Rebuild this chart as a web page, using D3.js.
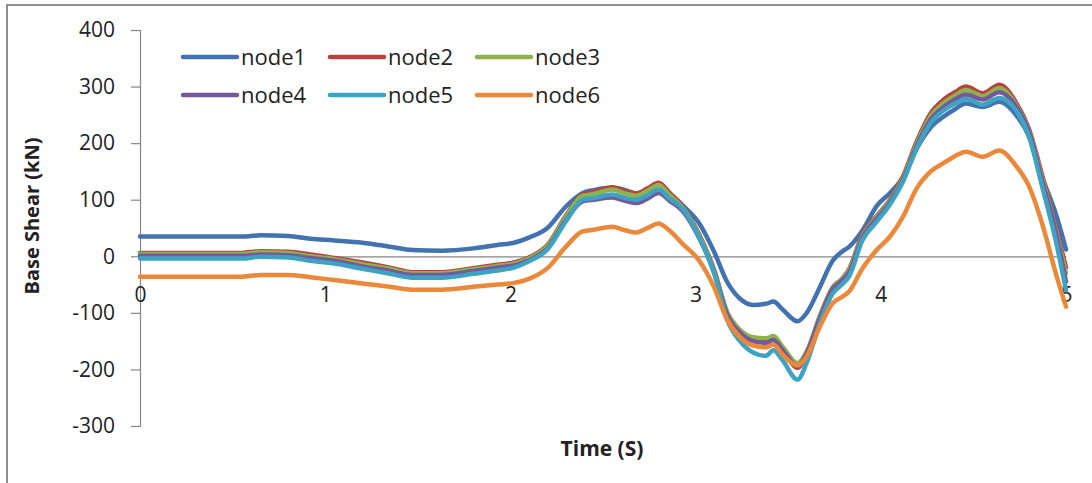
<!DOCTYPE html>
<html>
<head>
<meta charset="utf-8">
<script src="https://cdn.jsdelivr.net/npm/d3@7"></script>
<style>
  body { margin: 0; background: #fff; }
  text { font-family: "Open Sans", sans-serif; fill: #222; }
</style>
</head>
<body>
<div id="chart"></div>
<script>
// time steps (s)
var time = [0, 0.3, 0.55, 0.65, 0.8, 0.92, 1.05, 1.2, 1.35, 1.47, 1.63, 1.8, 1.93, 2.02, 2.1, 2.2, 2.3, 2.39, 2.45, 2.55,
  2.62, 2.68, 2.74, 2.8, 2.86, 2.93, 3.02, 3.1, 3.17, 3.24, 3.31, 3.38, 3.42, 3.47, 3.55, 3.6, 3.67, 3.74, 3.79, 3.83,
  3.9, 3.98, 4.05, 4.12, 4.19, 4.27, 4.34, 4.4, 4.46, 4.55, 4.64, 4.73, 4.8, 4.87, 4.95, 5.0];

var node1 = [35, 35, 35, 37, 36, 31, 28, 24, 17, 11, 10, 14, 20, 24, 33, 50, 88, 112, 117, 121,
  117, 111, 117, 127, 110, 90, 58, 8, -45, -75, -86, -84, -80, -94, -115, -100, -55, -8, 8, 17,
  45, 90, 112, 140, 188, 228, 247, 260, 270, 264, 273, 250, 212, 141, 70, 12];
var node2 = [6, 6, 6, 9, 8, 3, -3, -11, -20, -28, -28, -21, -15, -11, -2, 20, 72, 110, 114, 122,
  115, 111, 120, 130, 112, 88, 38, -24, -100, -133, -148, -150, -145, -165, -197, -172, -108, -55, -40, -22,
  38, 72, 100, 141, 200, 253, 277, 290, 300, 288, 303, 272, 225, 145, 45, -20];
var node3 = [4, 4, 4, 7, 6, 0, -5, -14, -22, -30, -30, -23, -17, -13, -4, 18, 70, 107, 110, 118,
  111, 107, 116, 126, 108, 86, 36, -25, -98, -130, -143, -145, -141, -160, -189, -168, -106, -55, -40, -24,
  35, 70, 98, 138, 196, 248, 271, 284, 294, 283, 297, 268, 222, 140, 40, -30];
var node4 = [1, 1, 1, 3, 2, -3, -8, -18, -26, -33, -33, -26, -20, -16, -7, 14, 64, 97, 100, 104,
  98, 94, 102, 112, 98, 80, 32, -28, -103, -135, -150, -153, -148, -166, -194, -172, -110, -58, -43, -28,
  32, 67, 95, 135, 192, 242, 264, 277, 286, 277, 290, 265, 220, 135, 35, -45];
var node5 = [-4, -4, -4, -1, -2, -8, -13, -22, -31, -38, -38, -31, -25, -20, -9, 12, 62, 100, 103, 109,
  103, 100, 108, 118, 102, 84, 33, -30, -112, -150, -170, -176, -166, -184, -218, -188, -120, -66, -50, -35,
  28, 62, 92, 132, 188, 236, 258, 270, 278, 268, 280, 258, 212, 125, 20, -60];
var node6 = [-36, -36, -36, -33, -33, -37, -42, -48, -54, -59, -59, -54, -50, -47, -40, -21, 17, 44, 47, 52,
  46, 42, 50, 58, 45, 22, -8, -55, -112, -143, -158, -161, -156, -174, -193, -177, -125, -83, -72, -62,
  -22, 12, 35, 70, 118, 150, 165, 177, 185, 176, 187, 160, 124, 59, -36, -89];

var seriesNames = ["node1", "node2", "node3", "node4", "node5", "node6"];
var seriesColors = ["#4372b0", "#b8423f", "#8fb24c", "#74599c", "#3ea3c2", "#ec8839"];
var xTicks = [0, 1, 2, 3, 4, 5];
var yTicks = [400, 300, 200, 100, 0, -100, -200, -300];

var seriesValues = [node1, node2, node3, node4, node5, node6];

var width = 1092, height = 483;

var svg = d3.select("#chart")
  .append("svg")
  .attr("width", width)
  .attr("height", height);

svg.append("rect")
  .attr("width", width)
  .attr("height", height)
  .style("fill", "#fff");

// outer frame (right and bottom edges fall off the picture)
svg.append("rect")
  .attr("x", 7)
  .attr("y", 5)
  .attr("width", 1100)
  .attr("height", 500)
  .style("fill", "none")
  .style("stroke", "#8e8e8e")
  .style("stroke-width", 2);

var x = d3.scaleLinear().domain([0, 5]).range([140, 1066]);
var y = d3.scaleLinear().domain([-300, 400]).range([426, 30]);

// plain hyphen for negatives, like the original
var plainFormat = function(d) { return String(d); };

// y axis
var yAxis = svg.append("g")
  .attr("transform", "translate(140,0)")
  .call(d3.axisLeft(y).tickValues(yTicks).tickSize(9).tickPadding(16).tickFormat(plainFormat));
yAxis.selectAll("path, line").style("stroke", "#868686").style("stroke-width", 1.2);
yAxis.selectAll("text")
  .style("font-size", "21px")
  .style("font-family", "'Open Sans', sans-serif")
  .style("fill", "#222");

// x axis sits on the zero line, labels hang well below it
var xAxis = svg.append("g")
  .attr("transform", "translate(0," + y(0) + ")")
  .call(d3.axisBottom(x).tickValues(xTicks).tickSize(0).tickPadding(31).tickFormat(plainFormat));
xAxis.select("path").style("stroke", "#868686").style("stroke-width", 1.2);
xAxis.selectAll("text")
  .style("font-size", "21px")
  .style("font-family", "'Open Sans', sans-serif")
  .style("fill", "#222");

// lines
var line = d3.line()
  .x(function(d) { return x(d[0]); })
  .y(function(d) { return y(d[1]); })
  .curve(d3.curveMonotoneX);

seriesValues.forEach(function(vals, i) {
  var pts = time.map(function(t, j) { return [t, vals[j]]; });
  svg.append("path")
    .datum(pts)
    .attr("d", line)
    .style("fill", "none")
    .style("stroke", seriesColors[i])
    .style("stroke-width", 4.5)
    .style("stroke-linejoin", "round")
    .style("stroke-linecap", "round");
});

// legend, 3 columns x 2 rows
var legend = svg.append("g");
seriesNames.forEach(function(name, i) {
  var col = i % 3, row = Math.floor(i / 3);
  var lx = 183 + col * 147, ly = 57 + row * 38;
  legend.append("line")
    .attr("x1", lx).attr("x2", lx + 54)
    .attr("y1", ly).attr("y2", ly)
    .style("stroke", seriesColors[i])
    .style("stroke-width", 4.5)
    .style("stroke-linecap", "round");
  legend.append("text")
    .attr("x", lx + 58)
    .attr("y", ly)
    .attr("dy", "0.35em")
    .style("font-size", "22px")
    .text(name);
});

// axis titles
svg.append("text")
  .attr("x", 602)
  .attr("y", 456)
  .attr("text-anchor", "middle")
  .style("font-size", "21px")
  .style("font-weight", "bold")
  .text("Time (S)");

svg.append("text")
  .attr("transform", "translate(39,216) rotate(-90)")
  .attr("text-anchor", "middle")
  .style("font-size", "20px")
  .style("font-weight", "bold")
  .text("Base Shear (kN)");
</script>
</body>
</html>
